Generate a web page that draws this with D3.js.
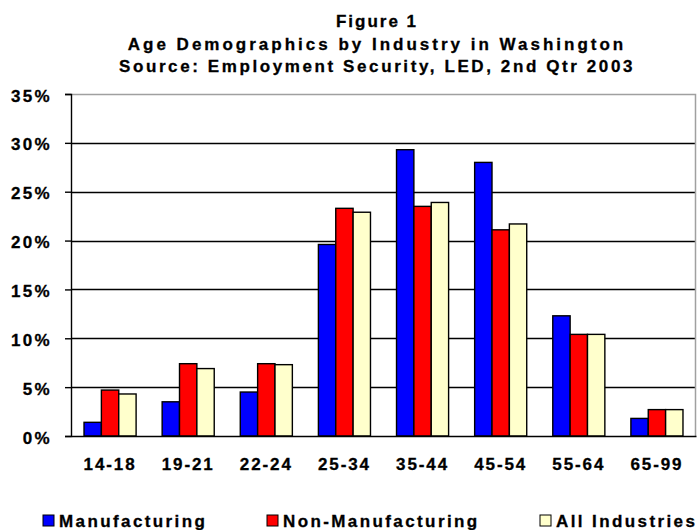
<!DOCTYPE html>
<html>
<head>
<meta charset="utf-8">
<script src="https://cdn.jsdelivr.net/npm/d3@7"></script>
<style>
  body { margin: 0; background: #fff; }
  text { font-family: "Liberation Sans", Arial, sans-serif; font-weight: bold; fill: #000; stroke: #000; stroke-width: 0.3px; }
</style>
</head>
<body>
<script>
const ageGroups = ['14-18', '19-21', '22-24', '25-34', '35-44', '45-54', '55-64', '65-99'];
const seriesNames = ['Manufacturing', 'Non-Manufacturing', 'All Industries'];
const manufacturing = [1.4, 3.5, 4.5, 19.6, 29.3, 28.0, 12.3, 1.8];
const nonManufacturing = [4.7, 7.4, 7.4, 23.3, 23.5, 21.1, 10.4, 2.7];
const allIndustries = [4.3, 6.9, 7.3, 22.9, 23.9, 21.7, 10.4, 2.7];
const yTicks = [0, 5, 10, 15, 20, 25, 30, 35];
const titleLines = [
  'Figure 1',
  'Age Demographics by Industry in Washington',
  'Source: Employment Security, LED, 2nd Qtr 2003'
];

const width = 700;
const height = 530;
const colors = ['#0000ff', '#ff0000', '#ffffcc'];
const margin = { top: 94, right: 4, bottom: 94, left: 71 };

const svg = d3.select('body').append('svg')
    .attr('width', width)
    .attr('height', height);

const series = [manufacturing, nonManufacturing, allIndustries];
const rows = ageGroups.map((g, i) => ({
    group: g,
    values: series.map((s, j) => ({ name: seriesNames[j], value: s[i], idx: j }))
}));

const x0 = d3.scaleBand()
    .domain(ageGroups)
    .range([margin.left, width - margin.right])
    .paddingInner(1 / 3)
    .paddingOuter(1 / 6);
const x1 = d3.scaleBand()
    .domain(seriesNames)
    .range([0, x0.bandwidth()]);
const y = d3.scaleLinear()
    .domain([0, 35])
    .range([height - margin.bottom, margin.top]);

// title
svg.append('g').selectAll('text').data(titleLines)
    .enter().append('text')
    .attr('x', 377)
    .attr('y', (d, i) => [27, 50, 72][i])
    .attr('text-anchor', 'middle')
    .style('font-size', '17px')
    .style('letter-spacing', (d, i) => ['2px', '3px', '2.6px'][i])
    .text(d => d);

// gridlines
svg.append('g').selectAll('line').data(yTicks.filter(t => t > 0 && t < 35))
    .enter().append('line')
    .attr('x1', margin.left)
    .attr('x2', width - margin.right)
    .attr('y1', d => Math.round(y(d)) + 0.5)
    .attr('y2', d => Math.round(y(d)) + 0.5)
    .attr('stroke', '#000')
    .attr('stroke-width', 1.4);

// plot border top/right
svg.append('path')
    .attr('d', `M${margin.left},${Math.round(y(35)) + 0.5}H${width - margin.right - 0.5}V${Math.round(y(0))}`)
    .attr('fill', 'none')
    .attr('stroke', '#a0a0a0')
    .attr('stroke-width', 1.5);

// bars
const groups = svg.append('g').selectAll('g').data(rows)
    .enter().append('g')
    .attr('transform', d => `translate(${x0(d.group)},0)`);
groups.selectAll('rect').data(d => d.values)
    .enter().append('rect')
    .attr('x', d => x1(d.name))
    .attr('y', d => y(d.value))
    .attr('width', x1.bandwidth())
    .attr('height', d => y(0) - y(d.value))
    .attr('fill', d => colors[d.idx])
    .attr('stroke', '#000')
    .attr('stroke-width', 1.4);

// y axis
const yAxis = d3.axisLeft(y)
    .tickValues(yTicks)
    .tickFormat(d => d + '%')
    .tickSize(6)
    .tickPadding(13);
const yg = svg.append('g')
    .attr('transform', `translate(${margin.left},0)`)
    .call(yAxis);
yg.selectAll('path, line').attr('stroke', '#000').attr('stroke-width', 1.4);
yg.selectAll('text')
    .style('font-size', '17px')
    .style('letter-spacing', '2.3px')
    .attr('dy', '0.42em')
    .attr('fill', '#000');

// x axis
const xAxis = d3.axisBottom(x0).tickSize(0).tickPadding(22);
const xg = svg.append('g')
    .attr('transform', `translate(0,${y(0)})`)
    .call(xAxis);
xg.select('.domain').attr('stroke', '#000').attr('stroke-width', 1.5);
xg.selectAll('text')
    .style('font-size', '17px')
    .style('letter-spacing', '1.9px')
    .attr('fill', '#000');

// legend
const legendX = [43, 267, 540];
const legend = svg.append('g').selectAll('g').data(seriesNames)
    .enter().append('g')
    .attr('transform', (d, i) => `translate(${legendX[i]},515)`);
legend.append('rect')
    .attr('width', 11)
    .attr('height', 11)
    .attr('fill', (d, i) => colors[i])
    .attr('stroke', '#000')
    .attr('stroke-width', 1);
legend.append('text')
    .attr('x', 16)
    .attr('y', 12)
    .style('font-size', '17px')
    .style('letter-spacing', '2.4px')
    .text(d => d);
</script>
</body>
</html>
